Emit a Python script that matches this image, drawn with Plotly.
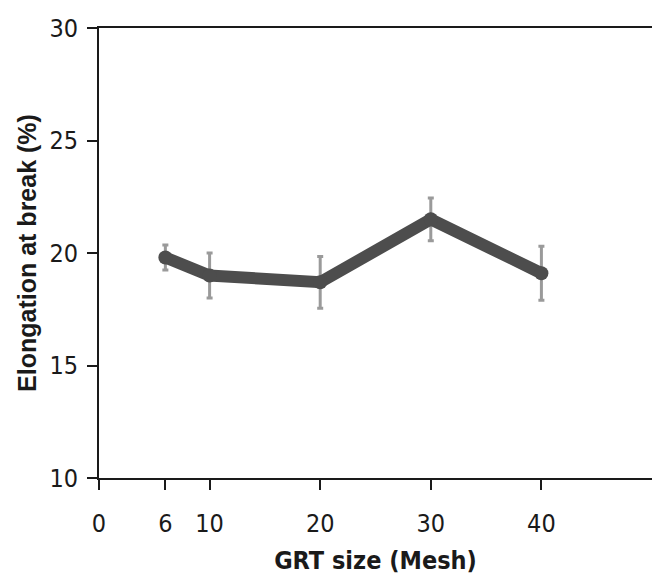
import plotly.graph_objects as go

mesh = [6, 10, 20, 30, 40]
elongation = [19.8, 19.0, 18.7, 21.5, 19.1]
err = [0.55, 1.0, 1.15, 0.95, 1.2]
x_ticks = [0, 6, 10, 20, 30, 40]
y_ticks = [10, 15, 20, 25, 30]

fig = go.Figure()
fig.add_trace(go.Scatter(
    x=mesh, y=elongation, mode="lines+markers",
    line=dict(color="#4d4d4d", width=12),
    marker=dict(size=14, color="#4d4d4d"),
    error_y=dict(type="data", array=err, visible=True, color="#9a9a9a", thickness=3, width=3),
    showlegend=False,
))

narrow = "DejaVu Sans Condensed, Arial Narrow, Arial"
tickfont = dict(family=narrow, size=25, color="#1a1a1a")
fig.update_layout(
    width=660, height=583,
    margin=dict(l=91, r=16, t=20, b=113, autoexpand=False),
    paper_bgcolor="white", plot_bgcolor="white",
    xaxis=dict(
        range=[0, 50], tickvals=x_ticks, ticktext=[str(v) for v in x_ticks],
        showgrid=False, zeroline=False, showline=True, linecolor="#1a1a1a", linewidth=2,
        mirror=True, ticks="outside", ticklen=10, tickwidth=2, tickcolor="#1a1a1a",
        tickfont=tickfont, ticklabelstandoff=12, automargin=False,
        title=dict(text="<b>GRT size (Mesh)</b>", font=dict(family=narrow, size=25, color="#1a1a1a"), standoff=14),
    ),
    yaxis=dict(
        range=[10, 30], tickvals=y_ticks,
        showgrid=False, zeroline=False, showline=True, linecolor="#1a1a1a", linewidth=2,
        mirror=True, ticks="outside", ticklen=10, tickwidth=2, tickcolor="#1a1a1a",
        tickfont=tickfont, ticklabelstandoff=4, automargin=False,
        title=dict(text="<b>Elongation at break (%)</b>", font=dict(family="Liberation Sans, Arial", size=25, color="#1a1a1a"), standoff=6),
    ),
)

fig.write_html("out.html")
